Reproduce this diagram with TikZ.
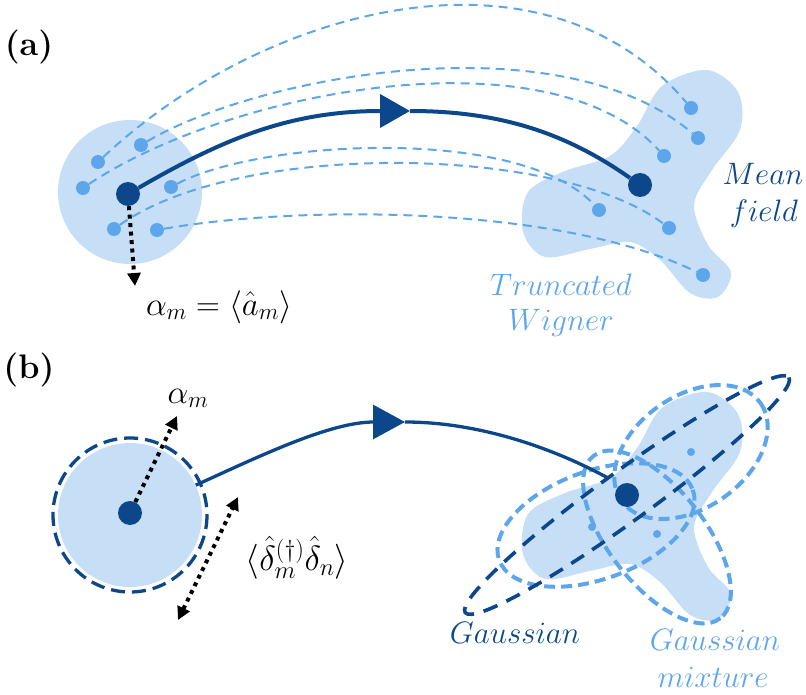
\RequirePackage{fix-cm}
\documentclass[tikz,border=0pt]{standalone}
\usetikzlibrary{arrows.meta}
\definecolor{dkb}{RGB}{12,71,140}
\definecolor{mdb}{RGB}{94,166,236}
\definecolor{ltb}{RGB}{198,223,246}
\begin{document}
\begin{tikzpicture}[x=1pt,y=-1pt,
  bigdot/.style={circle,fill=dkb,inner sep=0pt,minimum size=24pt},
  smalldot/.style={circle,fill=mdb,inner sep=0pt,minimum size=14pt},
  tinydot/.style={circle,fill=mdb,inner sep=0pt,minimum size=8pt},
  disk/.style={circle,fill=ltb,inner sep=0pt,minimum size=144pt},
  twline/.style={mdb,line width=2pt,dash pattern=on 9pt off 6pt},
  arca/.style={dkb,line width=4pt},
  arcb/.style={dkb,line width=3.3pt},
  gdash/.style={dkb,line width=3.6pt,dash pattern=on 15pt off 10pt},
  mdash/.style={mdb,line width=4pt,dash pattern=on 11pt off 6pt},
  cdash/.style={dkb,line width=3.3pt,dash pattern=on 14pt off 7pt},
  dotarrow/.style={black,line width=4pt,dash pattern=on 4pt off 4.5pt,-{Stealth[length=13pt,width=13pt,inset=0pt]}},
  dotdbl/.style={black,line width=4pt,dash pattern=on 4pt off 4.5pt,{Stealth[length=13pt,width=13pt,inset=0pt]}-{Stealth[length=13pt,width=13pt,inset=0pt]}},
  panel/.style={font=\fontsize{34}{40}\selectfont\bfseries},
  mlbl/.style={font=\fontsize{33}{39}\selectfont,anchor=base},
  ilbl/.style={font=\fontsize{31}{37}\selectfont,anchor=base},
]
\useasboundingbox (0,0) rectangle (806,695);

% ================= (a) =================
\fill[ltb] plot[smooth cycle,tension=0.55] coordinates {(707,70) (738,92) (740,130) (712,170) (694,205) (708,245) (731,272) (718,297) (690,293) (660,260) (630,242) (590,249) (545,257) (523,232) (528,192) (565,171) (610,156) (637,126) (662,86)};
\node[disk] (Acirc) at (130,192) {};

\node[smalldot] (p1) at (98,162) {};
\node[smalldot] (p2) at (141,145) {};
\node[smalldot] (p3) at (83,188) {};
\node[smalldot] (p4) at (171,187) {};
\node[smalldot] (p5) at (114,229) {};
\node[smalldot] (p6) at (157,230) {};
\node[smalldot] (q1) at (691,108) {};
\node[smalldot] (q2) at (698,138) {};
\node[smalldot] (q3) at (664,156) {};
\node[smalldot] (q4) at (599,210) {};
\node[smalldot] (q5) at (669,228) {};
\node[smalldot] (q6) at (703,275) {};

\draw[twline] (p1) .. controls (260,10) and (540,-70) .. (q1);
\draw[twline] (p2) .. controls (260,75) and (560,20) .. (q2);
\draw[twline] (p3) .. controls (230,90) and (550,30) .. (q3);
\draw[twline] (p4) .. controls (260,140) and (520,125) .. (q4);
\draw[twline] (p5) .. controls (240,140) and (560,145) .. (q5);
\draw[twline] (p6) .. controls (300,205) and (560,205) .. (q6);

\node[bigdot] (A0) at (128,194) {};
\node[bigdot] (A1) at (640,185) {};
\coordinate (Atip) at (410,111);
\draw[arca,-{Triangle[length=30pt,width=33pt]}] (A0) .. controls (223,139) and (290,111) .. (Atip);
\draw[arca] (Atip) .. controls (500,111) and (566,133) .. (A1);

\coordinate (Aend) at (135,286);
\draw[dotarrow] (A0) -- (Aend);

\node[panel] (la) at (29,47) {(a)};
\node[mlbl] (lalpha) at (219,315) {$\alpha_m=\langle\hat{a}_m\rangle$};
\node[ilbl,text=dkb] (lmean) at (763,185) {$Mean$};
\node[ilbl,text=dkb] (lfield) at (764,222) {$field$};
\node[ilbl,text=mdb] (ltrunc) at (561,295) {$Truncated$};
\node[ilbl,text=mdb] (lwig) at (561,330) {$Wigner$};

% ================= (b) =================
\begin{scope}[shift={(0,322)}]
\fill[ltb] plot[smooth cycle,tension=0.55] coordinates {(707,70) (738,92) (740,130) (712,170) (694,205) (708,245) (731,272) (718,297) (690,293) (660,260) (630,242) (590,249) (545,257) (523,232) (528,192) (565,171) (610,156) (637,126) (662,86)};
\end{scope}
\node[disk] (Bcirc) at (130,515) {};
\draw[cdash] (Bcirc.center) circle[radius=77];

\draw[mdash,rotate around={35:(691,452)}] (691,452) ellipse[x radius=85,y radius=56];
\draw[mdash,rotate around={20:(596,525)}] (596,525) ellipse[x radius=103,y radius=54];
\draw[mdash,rotate around={-52:(657,537)}] (657,537) ellipse[x radius=103,y radius=48];
\draw[gdash,rotate around={36:(627,495)}] (627,495) ellipse[x radius=200,y radius=25];

\node[tinydot] (m1) at (691,452) {};
\node[tinydot] (m2) at (657,534) {};
\node[tinydot] (m3) at (592,527) {};

\node[bigdot] (B0) at (130,513) {};
\node[bigdot] (B1) at (627,495) {};
\coordinate (Btip) at (405,422);
\coordinate (Bend) at (608,478);
\draw[arcb,-{Triangle[length=32pt,width=34pt]}] (Bcirc) .. controls (260,456) and (330,422) .. (Btip);
\draw[arcb] (Btip) .. controls (480,422) and (555,449) .. (Bend);

\coordinate (Bal) at (177,416);
\draw[dotarrow] (B0) -- (Bal);
\coordinate (Dlo) at (178,620);
\coordinate (Dhi) at (238,497);
\draw[dotdbl] (Dlo) -- (Dhi);

\node[panel] (lb) at (29,370) {(b)};
\node[mlbl] (lalb) at (188,403) {$\alpha_m$};
\node[mlbl,font=\fontsize{35}{40}\selectfont] (ldel) at (297,570) {$\langle\hat{\delta}_m^{(\dagger)}\hat{\delta}_n\rangle$};
\node[ilbl,text=dkb] (lgau) at (515,643) {$Gaussian$};
\node[ilbl,text=mdb] (lgm1) at (715,650) {$Gaussian$};
\node[ilbl,text=mdb] (lgm2) at (713,687) {$mixture$};
\end{tikzpicture}
\end{document}
